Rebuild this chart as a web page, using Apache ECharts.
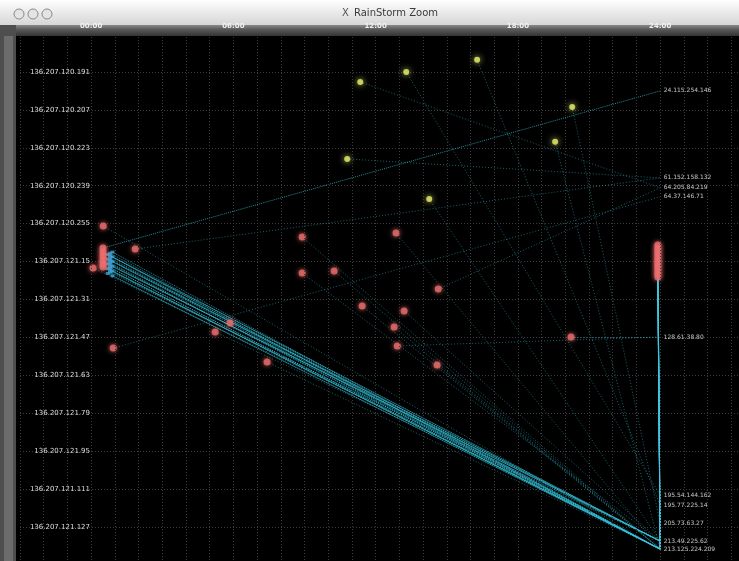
<!DOCTYPE html>
<html><head><meta charset="utf-8">
<script src="https://cdn.jsdelivr.net/npm/echarts@6/dist/echarts.min.js"></script>
<style>html,body{margin:0;padding:0;background:#000;}#c{width:739px;height:561px;}</style>
</head><body><div id="c"></div><script>
// ---- data ----
// x: hour of day, y: internal address index (191 = 136.207.120.191, 271 = 136.207.121.15 ...)
const xTickValues = [0, 6, 12, 18, 24];
const xTickLabels = ['00:00', '06:00', '12:00', '18:00', '24:00'];
const yTickLabels = ['136.207.120.191','136.207.120.207','136.207.120.223','136.207.120.239','136.207.120.255',
  '136.207.121.15','136.207.121.31','136.207.121.47','136.207.121.63','136.207.121.79','136.207.121.95',
  '136.207.121.111','136.207.121.127'];
const Y0 = 175; // address index at the top edge of the axis

const extNames = ['24.115.254.146','61.152.158.132','64.205.84.219','64.37.146.71','128.61.38.80',
  '195.54.144.162','195.77.225.14','205.73.63.27','213.49.225.62','213.125.224.209'];
const extPos = [199.0, 235.7, 239.9, 243.7, 302.8, 369.5, 373.7, 381.3, 388.9, 392.3];

const yellowHosts = [[11.35,195.2],[13.29,191.0],[16.28,185.9],[20.29,205.8],[19.57,220.5],[10.80,227.7],[14.26,244.6]];
const yellowTargets = [2, 5, 6, 7, 9, 1, 8];

const redHosts = [[0.51,256.0],[1.86,265.7],[0.08,273.7],[8.90,260.6],[12.86,258.9],[8.90,275.8],[10.25,275.0],
  [14.64,282.6],[11.43,289.7],[13.20,291.8],[12.78,298.6],[12.91,306.6],[14.59,314.6],[20.24,302.8],
  [5.86,296.9],[5.23,300.7],[0.93,307.5],[7.42,313.4]];
const redTargets = [9, 1, 8, 9, 9, 8, 9, 2, 9, 8, 9, 4, 9, 4, 9, 8, 3, 9];

const leftStack = [[0.5,265.3],[0.5,267.0],[0.5,268.6],[0.5,270.3],[0.5,272.0],[0.5,273.3]];
const leftStackTargets = [0, 9, 8, 9, 9, 9];

const blueStack = [[0.8,267.5],[0.8,268.5],[0.8,269.5],[0.8,270.5],[0.8,271.5],[0.8,272.5],[0.8,273.5],[0.8,274.5],[0.8,275.5],
  [0.7,268.0],[0.7,270.0],[0.7,272.0],[0.7,274.0],[0.7,276.0],
  [0.9,267.0],[0.9,269.0],[0.9,271.0],[0.9,273.0],[0.9,275.0],[0.9,277.0]];
const blueTargets = [9, 8, 9, 8, 9, 8, 9, 9, 8, 9, 8, 8, 9, 9, 9, 8, 9, 8, 9, 9];

const rightStack = [[23.9,264.0],[23.9,265.5],[23.9,267.0],[23.9,268.5],[23.9,270.0],[23.9,271.5],[23.9,273.0],[23.9,274.5],[23.9,276.0],[23.9,277.5]];
const rightTargets = [9, 9, 8, 9, 8, 9, 9, 8, 9, 9];

// ---- build ----
const P = p => [p[0], p[1] - Y0];
const E = i => [24, extPos[i] - Y0];
function links(hosts, targets) { return hosts.map((h, i) => ({ coords: [P(h), E(targets[i])] })); }

const chart = echarts.init(document.getElementById('c'), null, { renderer: 'canvas' });
const font = 'DejaVu Sans';
chart.setOption({
  backgroundColor: '#000',
  animation: false,
  grid: { left: 20, top: 34, width: 735, height: 531, outerBoundsMode: 'none', containLabel: false },
  xAxis: {
    type: 'value', position: 'top', min: -3, max: 28, interval: 1, z: 50,
    axisLine: { show: false }, axisTick: { show: false },
    axisLabel: {
      margin: 4, color: '#f0f0f0', fontSize: 7, fontWeight: 'bold', fontFamily: font,
      formatter: v => { const k = xTickValues.indexOf(v); return k >= 0 ? xTickLabels[k] : ''; }
    },
    splitLine: { show: true, lineStyle: { color: '#3c3c3c', type: [1, 2], width: 1 } }
  },
  yAxis: {
    type: 'value', inverse: true, min: 0, max: 224, interval: 16, offset: -71,
    axisLine: { show: false }, axisTick: { show: false },
    axisLabel: {
      margin: 1, color: '#dcdcdc', fontSize: 7, fontFamily: font,
      showMinLabel: false, showMaxLabel: false,
      formatter: v => yTickLabels[v / 16 - 1] || ''
    },
    splitLine: { show: true, lineStyle: { color: '#3c3c3c', type: [1, 2], width: 1 } }
  },
  graphic: [
    { type: 'rect', z: 40, shape: { x: 0, y: 0, width: 739, height: 25 },
      style: { fill: new echarts.graphic.LinearGradient(0, 0, 0, 1, [{ offset: 0, color: '#ffffff' }, { offset: 0.3, color: '#f2f2f2' }, { offset: 1, color: '#d6d6d6' }]) } },
    { type: 'rect', z: 40, shape: { x: 0, y: 25, width: 739, height: 11 },
      style: { fill: new echarts.graphic.LinearGradient(0, 0, 0, 1, [{ offset: 0, color: '#8a8a8a' }, { offset: 0.4, color: '#5a5a5a' }, { offset: 1, color: '#333333' }]) } },
    { type: 'rect', z: 40, shape: { x: 0, y: 25, width: 16, height: 536 }, style: { fill: '#4e4e4e' } },
    { type: 'rect', z: 41, shape: { x: 4, y: 36, width: 9, height: 525 }, style: { fill: '#6c6c6c' } },
    { type: 'circle', z: 42, shape: { cx: 19, cy: 14, r: 5 }, style: { fill: '#e4e4e4', stroke: '#8a8a8a', lineWidth: 1 } },
    { type: 'circle', z: 42, shape: { cx: 33, cy: 14, r: 5 }, style: { fill: '#e4e4e4', stroke: '#8a8a8a', lineWidth: 1 } },
    { type: 'circle', z: 42, shape: { cx: 47, cy: 14, r: 5 }, style: { fill: '#e4e4e4', stroke: '#8a8a8a', lineWidth: 1 } },
    { type: 'text', z: 42, x: 342, y: 8, style: { text: 'X', fill: '#555', font: '10px DejaVu Sans' } },
    { type: 'text', z: 42, x: 354, y: 8, style: { text: 'RainStorm Zoom', fill: '#3a3a3a', font: '10px DejaVu Sans' } }
  ],
  series: [
    { type: 'lines', coordinateSystem: 'cartesian2d', z: 3, silent: true,
      lineStyle: { color: '#2fb4c8', width: 1, opacity: 0.55, type: [1, 2] },
      data: links(yellowHosts, yellowTargets).concat(links(redHosts, redTargets)) },
    { type: 'lines', coordinateSystem: 'cartesian2d', z: 3, silent: true,
      lineStyle: { color: '#36c4dc', width: 1, opacity: 0.7, type: [1, 1] },
      data: links(leftStack, leftStackTargets).concat(links(blueStack, blueTargets)) },
    { type: 'lines', coordinateSystem: 'cartesian2d', z: 3, silent: true,
      lineStyle: { color: '#3cc8e0', width: 1, opacity: 0.8 },
      data: links(rightStack, rightTargets) },
    { type: 'scatter', z: 5, symbol: 'rect', symbolSize: [4, 3], silent: true,
      itemStyle: { color: '#3aa6dc' }, data: blueStack.map(P) },
    { type: 'scatter', z: 6, symbolSize: 7, silent: true,
      itemStyle: { color: '#e86c6c', shadowBlur: 5, shadowColor: '#ff7a7a' },
      data: redHosts.map(P).concat(leftStack.map(P)).concat(rightStack.map(P)) },
    { type: 'scatter', z: 6, symbolSize: 6, silent: true,
      itemStyle: { color: '#eaf46a', shadowBlur: 6, shadowColor: '#f4ff8a' },
      data: yellowHosts.map(P) },
    { type: 'scatter', z: 7, symbolSize: 1, silent: true,
      itemStyle: { color: 'rgba(0,0,0,0)' },
      label: { show: true, position: 'right', distance: 3, color: '#f0f0f0', fontSize: 6, fontFamily: font,
        formatter: p => extNames[p.dataIndex] },
      data: extPos.map((v, i) => E(i)) }
  ]
});
</script></body></html>
